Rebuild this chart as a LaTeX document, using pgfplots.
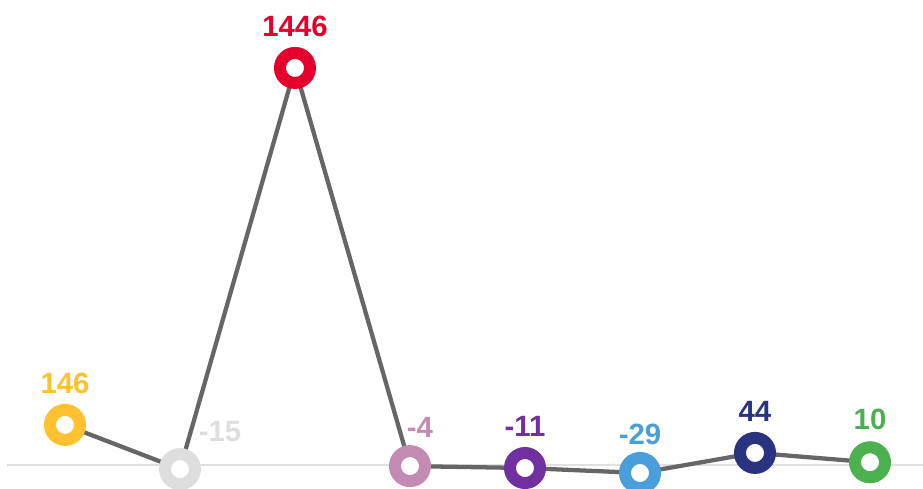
\documentclass[border=0pt]{standalone}
\usepackage{pgfplots}
\pgfplotsset{compat=1.18}
\usepackage{fontspec}
\setmainfont{Liberation Sans}
\definecolor{cY}{HTML}{FFC12F}
\definecolor{cG}{HTML}{DEDEDE}
\definecolor{cR}{HTML}{E4002B}
\definecolor{cP}{HTML}{C48BB2}
\definecolor{cV}{HTML}{7030A0}
\definecolor{cB}{HTML}{4A9EDA}
\definecolor{cN}{HTML}{29337F}
\definecolor{cGr}{HTML}{4CAF50}
\definecolor{lineg}{HTML}{666666}
\definecolor{basel}{HTML}{E0E0E0}
\pgfplotsset{
  pt/.style n args={4}{only marks, mark=*, mark size=11.25pt,
    mark options={draw=#1, fill=white, line width=9pt},
    point meta=explicit symbolic, nodes near coords,
    nodes near coords style={text=#1, font=\bfseries\fontsize{22}{22}\selectfont,
      anchor=center, inner sep=0pt, xshift=#2, yshift=#3}},
}
\begin{document}
\begin{tikzpicture}
\begin{axis}[scale only axis, width=692.25pt, height=366.75pt,
  xmin=-0.5652, xmax=7.4609, ymin=-87.4, ymax=1693.4,
  axis lines=none, clip=true]
\addplot[basel, line width=1.2pt, no marks] coordinates {(-0.5,0) (7.5,0)};
\addplot[lineg, line width=3.2pt, no marks] coordinates {
(0,146) (1,-15) (2,1446) (3,-4) (4,-11) (5,-29) (6,44) (7,10)};
\addplot[pt={cY}{0pt}{31.5pt}{}] coordinates {(0,146) [146]};
\addplot[pt={cG}{30pt}{28.5pt}{}] coordinates {(1,-15) [-15]};
\addplot[pt={cR}{0pt}{31.5pt}{}] coordinates {(2,1446) [1446]};
\addplot[pt={cP}{7.5pt}{29pt}{}] coordinates {(3,-4) [-4]};
\addplot[pt={cV}{0pt}{31pt}{}] coordinates {(4,-11) [-11]};
\addplot[pt={cB}{0pt}{29pt}{}] coordinates {(5,-29) [-29]};
\addplot[pt={cN}{0pt}{31.5pt}{}] coordinates {(6,44) [44]};
\addplot[pt={cGr}{0pt}{32pt}{}] coordinates {(7,10) [10]};
\end{axis}
\pgfresetboundingbox
\path[use as bounding box] (current axis.south west) rectangle (current axis.north east);
\end{tikzpicture}
\end{document}
